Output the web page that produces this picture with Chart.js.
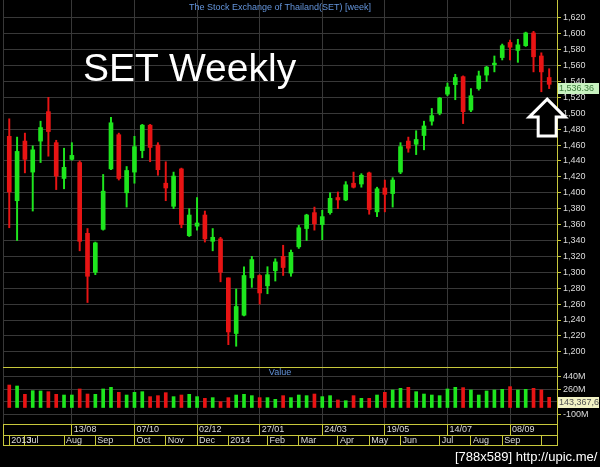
<!DOCTYPE html>
<html>
<head>
<meta charset="utf-8">
<script src="https://cdn.jsdelivr.net/npm/chart.js@4.4.0/dist/chart.umd.min.js"></script>
<style>
  html, body { margin: 0; padding: 0; background: #000; }
  #wrap { position: relative; width: 600px; height: 467px; overflow: hidden; background: #000; }
  #c { position: absolute; left: 0; top: 0; }
  .txt { position: absolute; white-space: nowrap; font-family: Arial, 'Liberation Sans', sans-serif; }
  #title { left: 3px; width: 554px; text-align: center; top: 3px; font-size: 9px; line-height: 9px; color: #6495dc; }
  #big { left: 83px; top: 48px; font-size: 39px; line-height: 39px; color: #fff; }
  #vlab { left: 3px; width: 554px; text-align: center; top: 368px; font-size: 9px; line-height: 9px; color: #6495dc; }
  #mark { left: 455px; top: 450px; font-size: 13px; line-height: 13px; color: #fff; }
</style>
</head>
<body>
<div id="wrap">
  <canvas id="c" width="600" height="467"></canvas>
  <div class="txt" id="title">The Stock Exchange of Thailand(SET) [week]</div>
  <div class="txt" id="big">SET Weekly</div>
  <div class="txt" id="vlab">Value</div>
  <div class="txt" id="mark">[788x589] http://upic.me/</div>
</div>
<script>
// weekly bars, first trading day of each week
const weeks = [
  '17/06/2013', '24/06/2013', '01/07/2013', '08/07/2013', '15/07/2013', '22/07/2013', '29/07/2013', '05/08/2013',
  '13/08/2013', '19/08/2013', '26/08/2013', '02/09/2013', '09/09/2013', '16/09/2013', '23/09/2013', '30/09/2013',
  '07/10/2013', '14/10/2013', '21/10/2013', '28/10/2013', '04/11/2013', '11/11/2013', '18/11/2013', '25/11/2013',
  '02/12/2013', '09/12/2013', '16/12/2013', '23/12/2013', '02/01/2014', '06/01/2014', '13/01/2014', '20/01/2014',
  '27/01/2014', '03/02/2014', '10/02/2014', '17/02/2014', '24/02/2014', '03/03/2014', '10/03/2014', '17/03/2014',
  '24/03/2014', '31/03/2014', '07/04/2014', '14/04/2014', '21/04/2014', '28/04/2014', '05/05/2014', '12/05/2014',
  '19/05/2014', '26/05/2014', '02/06/2014', '09/06/2014', '16/06/2014', '23/06/2014', '30/06/2014', '07/07/2014',
  '14/07/2014', '21/07/2014', '28/07/2014', '04/08/2014', '11/08/2014', '18/08/2014', '25/08/2014', '01/09/2014',
  '08/09/2014', '15/09/2014', '22/09/2014', '29/09/2014', '06/10/2014', '13/10/2014'
];
const open = [
  1471, 1390, 1465, 1426, 1465, 1502, 1463, 1418, 1442, 1438,
  1349, 1300, 1354, 1430, 1473, 1400, 1426, 1453, 1485, 1460,
  1412, 1383, 1430, 1346, 1358, 1372, 1339, 1342, 1293, 1223,
  1246, 1293, 1296, 1283, 1302, 1320, 1299, 1332, 1355, 1375,
  1360, 1375, 1394, 1391, 1412, 1411, 1425, 1376, 1406, 1399,
  1426, 1465, 1461, 1472, 1490, 1500, 1524, 1536, 1546, 1504,
  1531, 1548, 1561, 1570, 1589, 1579, 1585, 1601, 1572, 1545
];
const high = [
  1493, 1470, 1475, 1459, 1490, 1520, 1466, 1456, 1463, 1440,
  1355, 1338, 1423, 1495, 1475, 1433, 1471, 1486, 1486, 1463,
  1439, 1426, 1431, 1380, 1394, 1377, 1355, 1344, 1293, 1279,
  1307, 1320, 1297, 1307, 1317, 1334, 1328, 1359, 1373, 1382,
  1378, 1400, 1401, 1414, 1426, 1424, 1426, 1407, 1416, 1419,
  1463, 1470, 1478, 1490, 1506, 1520, 1538, 1549, 1547, 1531,
  1553, 1559, 1572, 1587, 1592, 1593, 1602, 1603, 1576, 1556
];
const low = [
  1356, 1340, 1425, 1377, 1438, 1446, 1404, 1405, 1441, 1327,
  1262, 1297, 1353, 1429, 1416, 1382, 1412, 1444, 1439, 1422,
  1390, 1380, 1356, 1345, 1353, 1338, 1327, 1288, 1209, 1207,
  1245, 1281, 1260, 1273, 1289, 1296, 1295, 1330, 1340, 1353,
  1341, 1373, 1380, 1390, 1406, 1407, 1373, 1370, 1376, 1382,
  1424, 1451, 1448, 1454, 1485, 1498, 1522, 1517, 1487, 1502,
  1529, 1540, 1552, 1567, 1567, 1564, 1584, 1552, 1527, 1531
];
const close = [
  1401, 1452, 1442, 1454, 1482, 1477, 1421, 1432, 1447, 1339,
  1295, 1337, 1402, 1488, 1418, 1428, 1458, 1485, 1457, 1429,
  1406, 1421, 1360, 1372, 1362, 1342, 1344, 1300, 1225, 1257,
  1296, 1316, 1274, 1297, 1313, 1306, 1325, 1356, 1372, 1361,
  1370, 1393, 1391, 1410, 1407, 1422, 1379, 1405, 1398, 1416,
  1458, 1456, 1467, 1484, 1497, 1519, 1533, 1545, 1502, 1522,
  1547, 1558, 1563, 1585, 1583, 1586, 1601, 1571, 1552, 1536.36
];
// traded value, million baht
const volume = [
  317, 303, 186, 237, 233, 223, 186, 176, 176, 261,
  190, 186, 261, 284, 214, 176, 214, 223, 153, 167,
  209, 153, 176, 186, 153, 129, 139, 82, 139, 176,
  186, 167, 139, 139, 115, 167, 139, 176, 167, 190,
  153, 167, 106, 96, 167, 129, 129, 176, 214, 247,
  270, 284, 223, 190, 176, 167, 261, 284, 280, 247,
  176, 233, 247, 256, 294, 247, 256, 270, 247, 143.3676
];

const priceTicks = [1200, 1220, 1240, 1260, 1280, 1300, 1320, 1340, 1360, 1380, 1400, 1420,
  1440, 1460, 1480, 1500, 1520, 1540, 1560, 1580, 1600, 1620];
const volumeTicks = [-100, 80, 260, 440];
const dateTicks = [8, 16, 24, 32, 40, 48, 56, 64];
const dateLabels = dateTicks.map(i => weeks[i].slice(0, 5));
const monthTicks = [0, 2, 7, 11, 16, 20, 24, 28, 33, 37, 42, 46, 50, 55, 59, 63, 68];
const monthLabels = ['2013', 'Jul', 'Aug', 'Sep', 'Oct', 'Nov', 'Dec', '2014', 'Feb', 'Mar',
  'Apr', 'May', 'Jun', 'Jul', 'Aug', 'Sep', ''];

const UP = '#1ee61e';
const DOWN = '#e81414';
const YELLOW = '#c8c83c';
const GRID = '#383838';
const LABEL = '#dcdcdc';
const FONT = { family: "Arial, 'Liberation Sans', sans-serif", size: 9 };

const idx = weeks.map((w, i) => i);
const colors = idx.map(i => close[i] >= open[i] ? UP : DOWN);

function fixHeight(h) {
    return function (scale) {
        scale.height = h;
        scale.paddingLeft = 0;
        scale.paddingRight = 0;
    };
}
function fixWidth(w) {
    return function (scale) {
        scale.width = w;
        scale.paddingTop = 0;
        scale.paddingBottom = 0;
    };
}

// panel frame, last value boxes and the arrow
const extras = {
    id: 'extras',
    afterDraw(chart) {
        const c = chart.ctx;
        const a = chart.chartArea;
        const x = chart.scales.x, x2 = chart.scales.x2, y = chart.scales.y, yv = chart.scales.yv;
        const line = (x1, y1, xx, yy) => { c.beginPath(); c.moveTo(x1, y1); c.lineTo(xx, yy); c.stroke(); };
        c.save();
        c.lineWidth = 1;
        c.strokeStyle = GRID;
        line(a.left + 0.5, a.top, a.left + 0.5, a.bottom);
        c.strokeStyle = YELLOW;
        line(a.left, yv.top + 0.5, a.right, yv.top + 0.5);
        line(a.left, x2.bottom - 0.5, a.right + 1, x2.bottom - 0.5);
        line(a.left + 0.5, x.top, a.left + 0.5, x2.bottom);
        line(a.right + 0.5, x.top, a.right + 0.5, x2.bottom);

        const last = close.length - 1;
        const box = (top, bg, fg, text) => {
            c.save();
            c.fillStyle = bg;
            c.fillRect(a.right + 1, top, 41, 11);
            c.beginPath();
            c.rect(a.right + 1, top, 41, 11);
            c.clip();
            c.fillStyle = fg;
            c.font = '9px ' + FONT.family;
            c.textBaseline = 'middle';
            c.textAlign = 'left';
            c.fillText(text, a.right + 2, top + 6);
            c.restore();
        };
        box(Math.round(y.getPixelForValue(close[last])) - 1, '#c8f2c0', '#3c7c3c',
            close[last].toLocaleString('en-US', { minimumFractionDigits: 2 }));
        box(Math.round(yv.getPixelForValue(volume[last])), '#f2f2c4', '#505050',
            Math.round(volume[last] * 1e6).toLocaleString('en-US'));

        const tx = x.getPixelForValue(last) - 2;
        const ty = y.getPixelForValue(low[last]) + 10.5;
        c.beginPath();
        c.moveTo(tx, ty);
        c.lineTo(tx + 18, ty + 18);
        c.lineTo(tx + 9, ty + 18);
        c.lineTo(tx + 9, ty + 37);
        c.lineTo(tx - 9, ty + 37);
        c.lineTo(tx - 9, ty + 18);
        c.lineTo(tx - 18, ty + 18);
        c.closePath();
        c.fillStyle = '#000';
        c.fill();
        c.lineWidth = 3;
        c.strokeStyle = '#fff';
        c.stroke();
        c.restore();
    }
};

new Chart(document.getElementById('c'), {
    type: 'bar',
    data: {
        datasets: [
            {
                label: 'Body',
                data: idx.map(i => ({ x: i, y: [open[i], close[i]] })),
                backgroundColor: colors,
                barThickness: 4,
                minBarLength: 1,
                grouped: false,
                xAxisID: 'x',
                yAxisID: 'y',
                order: 1
            },
            {
                label: 'Range',
                data: idx.map(i => ({ x: i, y: [low[i], high[i]] })),
                backgroundColor: colors,
                barThickness: 1.3,
                grouped: false,
                xAxisID: 'x',
                yAxisID: 'y',
                order: 2
            },
            {
                label: 'Value',
                data: idx.map(i => ({ x: i, y: volume[i] })),
                backgroundColor: colors,
                barThickness: 3,
                grouped: false,
                xAxisID: 'x',
                yAxisID: 'yv',
                order: 3
            }
        ]
    },
    options: {
        responsive: false,
        animation: false,
        devicePixelRatio: 1,
        layout: { padding: { left: 3, right: 0, top: 0, bottom: 21 } },
        plugins: { legend: { display: false }, tooltip: { enabled: false } },
        scales: {
            x: {
                type: 'linear', position: 'bottom', min: -0.8, max: 70, bounds: 'data', offset: false,
                grid: { color: GRID, offset: false, drawTicks: true, tickLength: 11, tickColor: YELLOW },
                border: { display: true, color: YELLOW },
                ticks: {
                    autoSkip: false, maxRotation: 0, minRotation: 0, align: 'start', padding: -11,
                    labelOffset: 2, color: LABEL, font: FONT,
                    callback: (v, i) => dateLabels[i]
                },
                afterBuildTicks: s => { s.ticks = dateTicks.map(v => ({ value: v })); },
                afterFit: fixHeight(11)
            },
            x2: {
                type: 'linear', position: 'bottom', min: -0.8, max: 70, bounds: 'data', offset: false,
                grid: { drawOnChartArea: false, offset: false, drawTicks: true, tickLength: 11, tickColor: YELLOW },
                border: { display: true, color: YELLOW },
                ticks: {
                    autoSkip: false, maxRotation: 0, minRotation: 0, align: 'start', padding: -11,
                    labelOffset: 2, color: LABEL, font: FONT,
                    callback: (v, i) => monthLabels[i]
                },
                afterBuildTicks: s => { s.ticks = monthTicks.map(v => ({ value: v })); },
                afterFit: fixHeight(11)
            },
            y: {
                type: 'linear', position: 'right', stack: 'panels', stackWeight: 367,
                min: 1180.9, max: 1642.4, bounds: 'data', beginAtZero: false,
                grid: { color: GRID, drawTicks: true, tickLength: 4, tickColor: YELLOW },
                border: { display: true, color: YELLOW },
                ticks: {
                    autoSkip: false, padding: 2, color: LABEL, font: FONT,
                    callback: v => v.toLocaleString('en-US')
                },
                afterBuildTicks: s => { s.ticks = priceTicks.map(v => ({ value: v })); },
                afterFit: fixWidth(43)
            },
            yv: {
                type: 'linear', position: 'right', stack: 'panels', stackWeight: 57,
                min: -232.7, max: 571, bounds: 'data', beginAtZero: false,
                grid: { color: GRID, drawTicks: true, tickLength: 4, tickColor: YELLOW },
                border: { display: true, color: YELLOW },
                ticks: {
                    autoSkip: false, padding: 2, color: LABEL, font: FONT,
                    callback: v => v + 'M'
                },
                afterBuildTicks: s => { s.ticks = volumeTicks.map(v => ({ value: v })); },
                afterFit: fixWidth(43)
            }
        }
    },
    plugins: [extras]
});
</script>
</body>
</html>
